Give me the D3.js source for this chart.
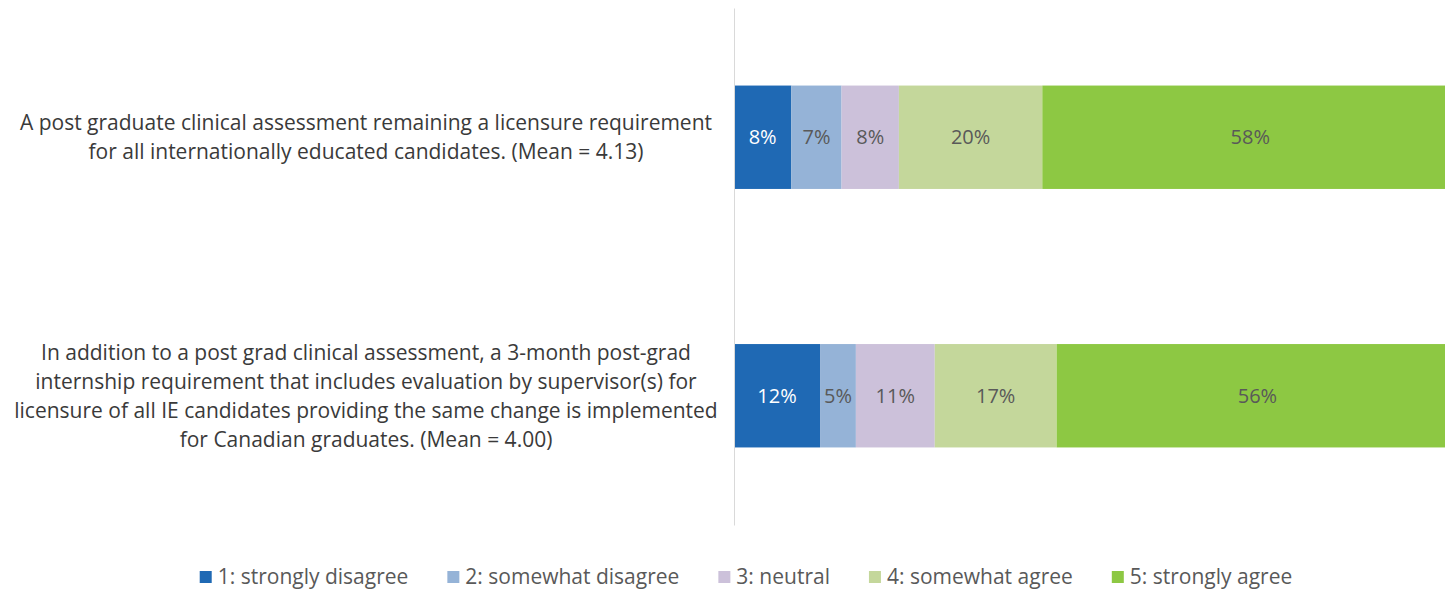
<!DOCTYPE html>
<html>
<head>
  <script src="https://cdnjs.cloudflare.com/ajax/libs/d3/7.8.5/d3.min.js"></script>
  <style>
  body { margin: 0; background: #fff; }
  svg { display: block; font-family: "Open Sans", Lato, sans-serif; }
  </style>
</head>
<body>
<script>

var categories = [
  ["A post graduate clinical assessment remaining a licensure requirement",
   "for all internationally educated candidates. (Mean = 4.13)"],
  ["In addition to a post grad clinical assessment, a 3-month post-grad",
   "internship requirement that includes evaluation by supervisor(s) for",
   "licensure of all IE candidates providing the same change is implemented",
   "for Canadian graduates. (Mean = 4.00)"]
];
var seriesNames = ["1: strongly disagree", "2: somewhat disagree", "3: neutral", "4: somewhat agree", "5: strongly agree"];
var strongDisagree = [8, 12];
var somewhatDisagree = [7, 5];
var neutral = [8, 11];
var somewhatAgree = [20, 17];
var strongAgree = [58, 56];
var colors = ["#1f69b4", "#95b3d7", "#ccc1da", "#c4d79b", "#8dc843"];

var width = 1445, height = 590;

var rows = categories.map(function(c, i) {
  return {id: i, s0: strongDisagree[i], s1: somewhatDisagree[i], s2: neutral[i], s3: somewhatAgree[i], s4: strongAgree[i]};
});
var keys = ["s0", "s1", "s2", "s3", "s4"];
var stacked = d3.stack().keys(keys)(rows);

var svg = d3.select("body").append("svg")
    .attr("width", width)
    .attr("height", height);

var x = d3.scaleLinear()
    .domain([0, 100])
    .range([734, 1451]);

var y = d3.scaleBand()
    .domain(rows.map(function(r) { return r.id; }))
    .range([8, 525])
    .paddingInner(0.6)
    .paddingOuter(0.3);

var layers = svg.selectAll("g.layer")
    .data(stacked)
    .enter().append("g")
    .attr("class", "layer")
    .attr("fill", function(d, i) { return colors[i]; });

layers.selectAll("rect")
    .data(function(d) { return d; })
    .enter().append("rect")
    .attr("x", function(d) { return x(d[0]); })
    .attr("y", function(d) { return y(d.data.id); })
    .attr("width", function(d) { return x(d[1]) - x(d[0]); })
    .attr("height", y.bandwidth());

layers.selectAll("text")
    .data(function(d) { return d; })
    .enter().append("text")
    .attr("x", function(d) { return (x(d[0]) + x(d[1])) / 2; })
    .attr("y", function(d) { return y(d.data.id) + y.bandwidth() / 2; })
    .attr("dy", "0.35em")
    .attr("text-anchor", "middle")
    .attr("font-size", "20px")
    .attr("fill", function() {
      var k = d3.select(this.parentNode).datum().key;
      return k === "s0" ? "#ffffff" : "#595959";
    })
    .text(function(d) { return (d[1] - d[0]) + "%"; });

// vertical axis line only
var yAxis = d3.axisLeft(y).tickSize(0).tickSizeOuter(0).tickFormat("");
var yAxisGroup = svg.append("g")
    .attr("transform", "translate(" + x(0) + ",0)")
    .call(yAxis);
yAxisGroup.select(".domain").attr("stroke", "#d9d9d9");

// category labels
var lineHeight = 29;
var catLabels = svg.selectAll("text.cat")
    .data(categories)
    .enter().append("text")
    .attr("class", "cat")
    .attr("text-anchor", "middle")
    .attr("font-size", "21px")
    .attr("fill", "#3a3a3a");

catLabels.each(function(lines, i) {
  var cy = y(i) + y.bandwidth() / 2;
  var top = cy - (lines.length - 1) * lineHeight / 2;
  d3.select(this).selectAll("tspan")
    .data(lines)
    .enter().append("tspan")
    .attr("x", 366)
    .attr("y", function(d, j) { return top + j * lineHeight; })
    .attr("dy", "0.35em")
    .text(function(d) { return d; });
});

// legend
var legend = svg.append("g").attr("transform", "translate(0,577)");
var items = legend.selectAll("g")
    .data(seriesNames)
    .enter().append("g");
items.append("rect")
    .attr("width", 12).attr("height", 12)
    .attr("y", -6)
    .attr("fill", function(d, i) { return colors[i]; });
items.append("text")
    .attr("x", 18)
    .attr("dy", "0.35em")
    .attr("font-size", "21px")
    .attr("fill", "#595959")
    .text(function(d) { return d; });

var pos = 0, offsets = [];
items.each(function() {
  offsets.push(pos);
  pos += 18 + this.querySelector("text").getComputedTextLength() + 39;
});
var total = pos - 39;
var start = 746 - total / 2;
items.attr("transform", function(d, i) { return "translate(" + (start + offsets[i]) + ",0)"; });

</script>
</body>
</html>
